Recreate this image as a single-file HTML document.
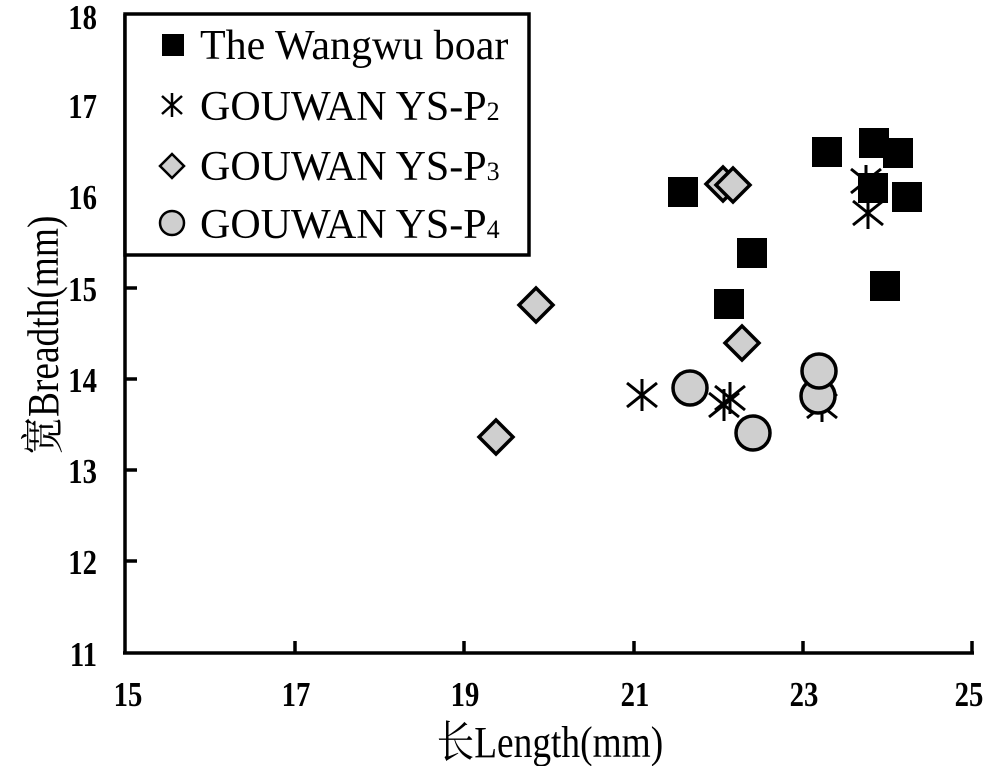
<!DOCTYPE html>
<html><head><meta charset="utf-8"><style>
html,body{margin:0;padding:0;background:#fff}
svg{display:block}
text{font-family:"Liberation Serif","Noto Serif CJK SC",serif;fill:#000}
</style></head><body>
<svg width="1002" height="766" viewBox="0 0 1002 766" xmlns="http://www.w3.org/2000/svg">
<defs>
<g id="sq"><rect x="-15" y="-15" width="30" height="30" fill="#000"/></g>
<g id="st" stroke="#000" stroke-width="3" fill="none"><line x1="0" y1="-16" x2="0" y2="16"/><line x1="-15" y1="-12" x2="15" y2="12"/><line x1="-15" y1="12" x2="15" y2="-12"/></g>
<g id="di"><polygon points="0,-17 17,0 0,17 -17,0" fill="#cfcfcf" stroke="#000" stroke-width="3.5"/></g>
<g id="ci"><circle r="17" fill="#cfcfcf" stroke="#000" stroke-width="3.5"/></g>
</defs>
<g stroke="#000" stroke-width="3.5" fill="none">
<line x1="125" y1="14" x2="125" y2="654"/>
<line x1="123" y1="653" x2="974" y2="653"/>
<line x1="125" y1="105" x2="137" y2="105"/><line x1="125" y1="196" x2="137" y2="196"/><line x1="125" y1="288" x2="137" y2="288"/><line x1="125" y1="379" x2="137" y2="379"/><line x1="125" y1="470" x2="137" y2="470"/><line x1="125" y1="561" x2="137" y2="561"/><line x1="125" y1="15" x2="137" y2="15"/>
<line x1="295" y1="653" x2="295" y2="641"/><line x1="464" y1="653" x2="464" y2="641"/><line x1="634" y1="653" x2="634" y2="641"/><line x1="803" y1="653" x2="803" y2="641"/><line x1="972" y1="653" x2="972" y2="641"/>
</g>
<g font-size="35" font-weight="bold" text-anchor="end">
<text transform="translate(97,29) scale(0.82,1)">18</text>
<text transform="translate(97,118) scale(0.82,1)">17</text>
<text transform="translate(97,209) scale(0.82,1)">16</text>
<text transform="translate(97,301) scale(0.82,1)">15</text>
<text transform="translate(97,392) scale(0.82,1)">14</text>
<text transform="translate(97,483) scale(0.82,1)">13</text>
<text transform="translate(97,574) scale(0.82,1)">12</text>
<text transform="translate(97,666) scale(0.82,1)">11</text>
</g>
<g font-size="35" font-weight="bold" text-anchor="middle">
<text transform="translate(128,706) scale(0.82,1)">15</text>
<text transform="translate(296,706) scale(0.82,1)">17</text>
<text transform="translate(465,706) scale(0.82,1)">19</text>
<text transform="translate(635,706) scale(0.82,1)">21</text>
<text transform="translate(804,706) scale(0.82,1)">23</text>
<text transform="translate(969,706) scale(0.82,1)">25</text>
</g>
<text transform="translate(550,757) scale(0.85,1)" font-size="44" text-anchor="middle">长Length(mm)</text>
<text transform="translate(58,335) rotate(-90) scale(0.85,1)" font-size="44" text-anchor="middle">宽Breadth(mm)</text>
<use href="#st" x="642" y="395"/>
<use href="#st" x="724" y="405"/><use href="#st" x="730" y="398"/>
<use href="#st" x="822" y="406"/>
<use href="#di" x="536" y="305"/><use href="#di" x="496" y="437"/>
<use href="#di" x="723" y="184"/><use href="#di" x="733" y="185"/><use href="#di" x="742" y="343"/>
<use href="#ci" x="690" y="388"/><use href="#ci" x="753" y="433"/><use href="#ci" x="818" y="396"/><use href="#ci" x="819" y="371"/>
<use href="#st" x="866" y="181"/><use href="#st" x="868" y="213"/>
<use href="#sq" x="683" y="192"/><use href="#sq" x="752" y="253"/><use href="#sq" x="729" y="304"/><use href="#sq" x="827" y="152"/><use href="#sq" x="874" y="143"/><use href="#sq" x="898" y="153"/><use href="#sq" x="873" y="188"/><use href="#sq" x="907" y="197"/><use href="#sq" x="885" y="286"/>
<rect x="125" y="14" width="404" height="241" fill="#fff" stroke="#000" stroke-width="3.5"/>
<rect x="162" y="34" width="22" height="22" fill="#000"/>
<g stroke="#000" stroke-width="2.5"><line x1="172" y1="93" x2="172" y2="117"/><line x1="162" y1="96" x2="182" y2="114"/><line x1="162" y1="114" x2="182" y2="96"/></g>
<polygon points="172,154 184,166 172,178 160,166" fill="#cfcfcf" stroke="#000" stroke-width="2.5"/>
<circle cx="172" cy="223" r="12" fill="#cfcfcf" stroke="#000" stroke-width="2.5"/>
<g font-size="42">
<text transform="translate(200,59)">The Wangwu boar</text>
<text transform="translate(200,120)">GOUWAN YS-P<tspan font-size="26">2</tspan></text>
<text transform="translate(200,180)">GOUWAN YS-P<tspan font-size="26">3</tspan></text>
<text transform="translate(200,238)">GOUWAN YS-P<tspan font-size="26">4</tspan></text>
</g>
</svg>
</body></html>
